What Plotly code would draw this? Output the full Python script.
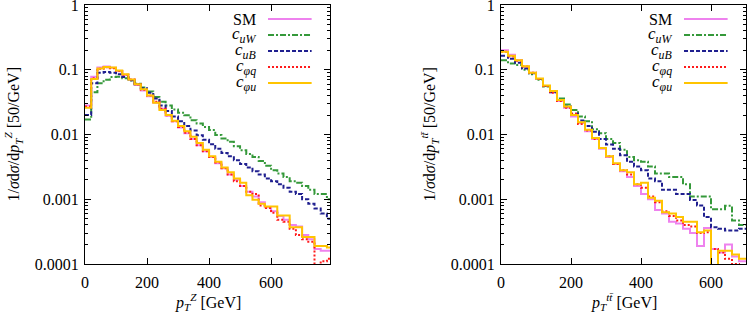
import plotly.graph_objects as go

BIN = 20  # GeV

# ---------- left panel: pT^Z (bins of 20 GeV, 0-800) ----------
z_sm = [0.028, 0.078, 0.108, 0.112, 0.107, 0.095, 0.083, 0.070, 0.058, 0.048,
        0.039, 0.031, 0.025, 0.0195, 0.016, 0.0128, 0.0105, 0.0085, 0.0068, 0.0055,
        0.0045, 0.0036, 0.0030, 0.0024, 0.0020, 0.0016, 0.0013, 0.0011, 0.0009, 0.00075,
        0.00065, 0.00055, 0.00048, 0.00040, 0.00038, 0.00028, 0.00024, 0.00017, 0.00016, 0.00016]
z_cuW = [0.017, 0.045, 0.062, 0.070, 0.077, 0.078, 0.074, 0.068, 0.061, 0.053,
         0.046, 0.038, 0.032, 0.028, 0.0243, 0.0216, 0.0199, 0.0166, 0.0148, 0.0131,
         0.0117, 0.0098, 0.0087, 0.0077, 0.0066, 0.0057, 0.0050, 0.0045, 0.0039, 0.0033,
         0.0028, 0.0025, 0.0022, 0.0019, 0.0018, 0.0016, 0.0014, 0.0012, 0.0012, 0.0010]
z_cuB = [0.020, 0.062, 0.090, 0.092, 0.090, 0.085, 0.077, 0.069, 0.060, 0.052,
         0.044, 0.036, 0.028, 0.023, 0.019, 0.016, 0.0135, 0.0115, 0.0097, 0.0083,
         0.0071, 0.0060, 0.0052, 0.0046, 0.0040, 0.0035, 0.0031, 0.0027, 0.0024, 0.0021,
         0.0019, 0.0017, 0.0015, 0.0013, 0.0012, 0.0010, 0.00085, 0.00072, 0.00060, 0.00050]
z_cpq = [0.027, 0.074, 0.104, 0.109, 0.106, 0.096, 0.084, 0.071, 0.059, 0.049,
         0.040, 0.032, 0.025, 0.0198, 0.016, 0.013, 0.0106, 0.0085, 0.0068, 0.0055,
         0.0045, 0.0037, 0.0030, 0.0024, 0.0019, 0.0016, 0.0013, 0.0012, 0.0008, 0.00073,
         0.00062, 0.00048, 0.00045, 0.00035, 0.00028, 0.00024, 0.00022, 0.00007, 0.00011, 0.00012]
z_cpu = [0.026, 0.072, 0.105, 0.110, 0.108, 0.097, 0.085, 0.071, 0.060, 0.050,
         0.040, 0.031, 0.024, 0.020, 0.0163, 0.0135, 0.0112, 0.0092, 0.0074, 0.0058,
         0.0046, 0.0038, 0.0031, 0.0026, 0.0021, 0.0018, 0.00115, 0.00098, 0.00085, 0.00077,
         0.00077, 0.00056, 0.00056, 0.00037, 0.00037, 0.00026, 0.00026, 0.00019, 0.00019, 0.00018]

# ---------- right panel: pT^ttbar (bins of 20 GeV, 0-700) ----------
t_sm = [0.20, 0.17, 0.14, 0.112, 0.090, 0.072, 0.056, 0.045, 0.033, 0.026,
        0.019, 0.015, 0.0112, 0.0085, 0.0060, 0.0045, 0.0035, 0.0027, 0.0022, 0.0016,
        0.0012, 0.0010, 0.00068, 0.00060, 0.00045, 0.00042, 0.00035, 0.00030, 0.00019, 0.00036,
        0.00017, 0.00015, 0.00020, 0.00013, 0.00011]
t_cuW = [0.14, 0.125, 0.118, 0.100, 0.085, 0.070, 0.055, 0.046, 0.036, 0.029,
         0.024, 0.019, 0.016, 0.012, 0.0105, 0.0085, 0.0074, 0.0058, 0.0045, 0.0040,
         0.0038, 0.0032, 0.0025, 0.0025, 0.0022, 0.0022, 0.0017, 0.0011, 0.0011, 0.0011,
         0.0007, 0.0007, 0.00079, 0.00047, 0.00040]
t_cuB = [0.165, 0.148, 0.128, 0.105, 0.088, 0.072, 0.056, 0.045, 0.034, 0.027,
         0.021, 0.0165, 0.0135, 0.011, 0.0085, 0.0070, 0.0060, 0.0048, 0.0038, 0.0032,
         0.0028, 0.0021, 0.0019, 0.0014, 0.0014, 0.0012, 0.0012, 0.00097, 0.0008, 0.00053,
         0.00037, 0.00035, 0.00033, 0.00033, 0.00035]
t_cpq = [0.19, 0.16, 0.138, 0.112, 0.090, 0.072, 0.056, 0.044, 0.033, 0.026,
         0.021, 0.0145, 0.0115, 0.0085, 0.0062, 0.0046, 0.0035, 0.0028, 0.0024, 0.0017,
         0.0015, 0.0011, 0.0009, 0.00065, 0.00055, 0.00047, 0.00040, 0.00038, 0.00030, 0.00031,
         0.00017, 0.00015, 0.00012, 0.00010, 0.00009]
t_cpu = [0.19, 0.165, 0.14, 0.113, 0.090, 0.073, 0.057, 0.047, 0.034, 0.027,
         0.020, 0.0155, 0.0118, 0.0088, 0.0062, 0.0046, 0.0036, 0.0028, 0.0026, 0.0017,
         0.0018, 0.00105, 0.00095, 0.00063, 0.00060, 0.00053, 0.00045, 0.00045, 0.00031, 0.00033,
         0.0, 0.00016, 0.00016, 0.00014, 0.00012]

x_ticks = [0, 200, 400, 600]
y_ticks = [1, 0.1, 0.01, 0.001, 0.0001]
y_ticktext = ["1", "0.1", "0.01", "0.001", "0.0001"]
y_minor = [m * 10.0 ** e for e in range(-4, 0) for m in range(2, 10)]

names = ["SM", "<i>c<sub>uW</sub></i>", "<i>c<sub>uB</sub></i>",
         "<i>c<sub>φq</sub></i>", "<i>c<sub>φu</sub></i>"]
colors = ["#ee82ee", "#35993a", "#1f1f8f", "#ff1a1a", "#ffc400"]
dashes = ["solid", "6px,2px,2px,2px", "4px,2px", "2px,2px", "solid"]

FONT = "Liberation Serif, DejaVu Serif, serif"

def steps(vals):
    xs = [i * BIN for i in range(len(vals) + 1)]
    ys = [v if v > 0 else 1e-8 for v in vals] + [vals[-1] if vals[-1] > 0 else 1e-8]
    return xs, ys

fig = go.Figure()
for panel, series in ((1, [z_sm, z_cuW, z_cuB, z_cpq, z_cpu]),
                      (2, [t_sm, t_cuW, t_cuB, t_cpq, t_cpu])):
    for s, name, c, d in zip(series, names, colors, dashes):
        xs, ys = steps(s)
        fig.add_trace(go.Scatter(
            x=xs, y=ys, mode="lines", line=dict(shape="hv", color=c, width=2, dash=d),
            name=name, showlegend=False, hoverinfo="skip",
            xaxis="x" if panel == 1 else "x2", yaxis="y" if panel == 1 else "y2"))

W, H = 747, 314
ml, mr, mt, mb = 85, 1, 5, 50
pw = W - ml - mr
ph = H - mt - mb
left_dom = [0, (330 - ml) / pw]
right_dom = [(501 - ml) / pw, 1]

axis_common = dict(showline=True, linecolor="black", linewidth=1, mirror="allticks",
                   ticks="inside", ticklen=6, tickcolor="black", showgrid=False,
                   zeroline=False, automargin=False, ticklabeloverflow="allow",
                   tickfont=dict(family=FONT, size=16, color="black"))
xaxis_common = dict(axis_common, tickvals=x_ticks, ticklabelstandoff=4)
yaxis_common = dict(axis_common, type="log", range=[-4.0005, 0.0005], tickvals=y_ticks,
                    ticktext=y_ticktext, ticklabelstandoff=2,
                    minor=dict(ticks="inside", ticklen=3, tickcolor="black",
                               tickvals=y_minor, showgrid=False))

fig.update_layout(
    template="none",
    width=W, height=H, margin=dict(l=ml, r=mr, t=mt, b=mb),
    paper_bgcolor="white", plot_bgcolor="white",
    font=dict(family=FONT, size=16, color="black"),
    xaxis=dict(xaxis_common, domain=left_dom, range=[0, 790], anchor="y"),
    yaxis=dict(yaxis_common, anchor="x"),
    xaxis2=dict(xaxis_common, domain=right_dom, range=[0, 700], anchor="y2"),
    yaxis2=dict(yaxis_common, anchor="x2"),
)

# legends (text on the left, line sample on the right), drawn inside each panel
row_y = [19, 35, 51, 67, 83]
for xr, yr in (("x domain", "y domain"), ("x2 domain", "y2 domain")):
    for ry, name, c, d in zip(row_y, names, colors, dashes):
        fy = 1 - (ry - mt) / ph
        fig.add_annotation(x=0.706, y=fy, xref=xr, yref=yr, text=name, showarrow=False,
                           xanchor="right", yanchor="middle",
                           font=dict(family=FONT, size=16 if name == "SM" else 17))
        fig.add_shape(type="line", xref=xr, yref=yr, x0=0.747, x1=0.925, y0=fy, y1=fy,
                      line=dict(color=c, width=2, dash=d))

# axis titles
xt_y = -(302 - (H - mb)) / ph
fig.add_annotation(x=0.5, y=xt_y, xref="x domain", yref="paper", yanchor="middle",
                   text="<i>p<sub>T</sub><sup>Z</sup></i> [GeV]", showarrow=False,
                   font=dict(family=FONT, size=16))
fig.add_annotation(x=0.5, y=xt_y, xref="x2 domain", yref="paper", yanchor="middle",
                   text="<i>p<sub>T</sub><sup>tt̄</sup></i> [GeV]", showarrow=False,
                   font=dict(family=FONT, size=16))
ytitle_z = "1/<i>σ</i>d<i>σ</i>/d<i>p<sub>T</sub><sup>Z</sup></i> [50/GeV]"
ytitle_t = "1/<i>σ</i>d<i>σ</i>/d<i>p<sub>T</sub><sup>tt̄</sup></i> [50/GeV]"
fig.add_annotation(x=(13 - ml) / pw, y=0.5, xref="paper", yref="y domain", showarrow=False,
                   textangle=-90, text=ytitle_z, xanchor="center", yanchor="middle",
                   font=dict(family=FONT, size=16))
fig.add_annotation(x=(429 - ml) / pw, y=0.5, xref="paper", yref="y2 domain", showarrow=False,
                   textangle=-90, text=ytitle_t, xanchor="center", yanchor="middle",
                   font=dict(family=FONT, size=16))

fig.write_html("out.html", config={"displayModeBar": False, "staticPlot": True},
               post_script="document.body.style.margin='0';document.body.style.overflow='hidden';")
